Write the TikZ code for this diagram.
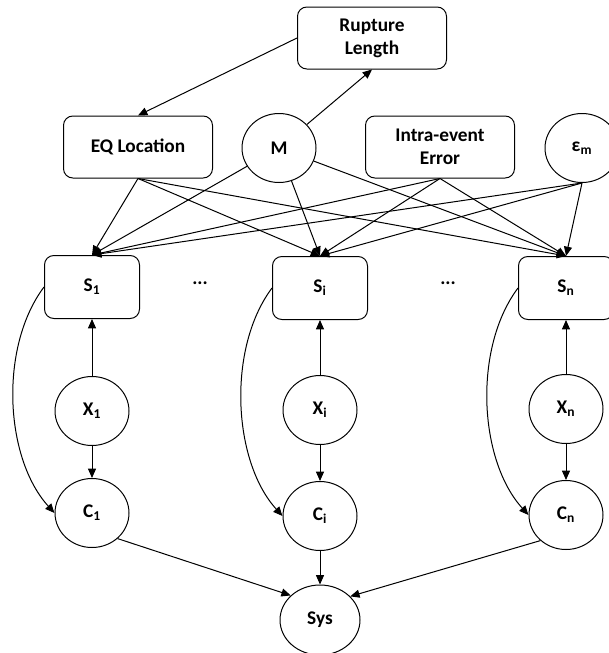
\documentclass[tikz,border=0pt]{standalone}
\usepackage{fontspec}
\setmainfont{Carlito}
\usetikzlibrary{arrows.meta,shapes.geometric}
\tikzset{
  label font/.style={font=\fontsize{14.5}{17.3}\selectfont\bfseries},
  base/.style={draw,line width=0.75pt,label font},
  box/.style={base,rounded corners=7pt,minimum width=111.75pt,minimum height=46.5pt,align=center},
  site/.style={box,minimum width=71.25pt,minimum height=47.25pt},
  var/.style={base,ellipse,inner sep=0pt,minimum width=55.5pt,minimum height=51.75pt},
  link/.style={-{Triangle[length=7pt,width=6pt]},line width=0.75pt}
}

\begin{document}
\begin{tikzpicture}[x=0.75pt,y=-0.75pt]
  \useasboundingbox (0,0) rectangle (609,653);

  % source
  \node[box] (rupture) at (372,38) {Rupture\\Length};
  \node[box] (eqloc) at (138,147) {EQ Location};
  \node[var] (M) at (279,148) {M};
  \node[box] (intra) at (440,147) {Intra-event\\Error};
  \node[var] (eps) at (582,148) {ε\textsubscript{m}};

  % sites
  \node[site] (S1) at (92,287) {S\textsubscript{1}};
  \node[site] (Si) at (320,288) {S\textsubscript{i}};
  \node[site] (Sn) at (566,288) {S\textsubscript{n}};
  \node[label font] (dotsA) at (200,283) {...};
  \node[label font] (dotsB) at (448,283) {...};

  \node[var] (X1) at (92,411) {X\textsubscript{1}};
  \node[var] (Xi) at (320,410) {X\textsubscript{i}};
  \node[var] (Xn) at (566,409) {X\textsubscript{n}};

  \node[var] (C1) at (92,513) {C\textsubscript{1}};
  \node[var] (Ci) at (320,516) {C\textsubscript{i}};
  \node[var] (Cn) at (566,515) {C\textsubscript{n}};

  \node[var,minimum width=60pt,minimum height=52.5pt] (Sys) at (320,620) {Sys};

  \draw[link] (rupture.west) -- (eqloc.north);
  \draw[link] (M) -- (rupture.south);

  \draw[link] (eqloc.south) -- (S1.north);
  \draw[link] (eqloc.south) -- (Si.north);
  \draw[link] (eqloc.south) -- (Sn.north);
  \draw[link] (M) -- (S1.north);
  \draw[link] (M) -- (Si.north);
  \draw[link] (M) -- (Sn.north);
  \draw[link] (intra.south) -- (S1.north);
  \draw[link] (intra.south) -- (Si.north);
  \draw[link] (intra.south) -- (Sn.north);
  \draw[link] (eps.south) -- (S1.north);
  \draw[link] (eps.south) -- (Si.north);
  \draw[link] (eps.south) -- (Sn.north);

  \draw[link] (X1) -- (S1);
  \draw[link] (Xi) -- (Si);
  \draw[link] (Xn) -- (Sn);
  \draw[link] (X1) -- (C1);
  \draw[link] (Xi) -- (Ci);
  \draw[link] (Xn) -- (Cn);

  \draw[link] (S1.west) .. controls +(-45,60) and +(-50,-55) .. (C1.west);
  \draw[link] (Si.west) .. controls +(-45,60) and +(-50,-55) .. (Ci.west);
  \draw[link] (Sn.west) .. controls +(-45,60) and +(-50,-55) .. (Cn.west);

  \draw[link] (C1.-45) -- (Sys.140);
  \draw[link] (Ci) -- (Sys);
  \draw[link] (Cn.225) -- (Sys.38);
\end{tikzpicture}
\end{document}
